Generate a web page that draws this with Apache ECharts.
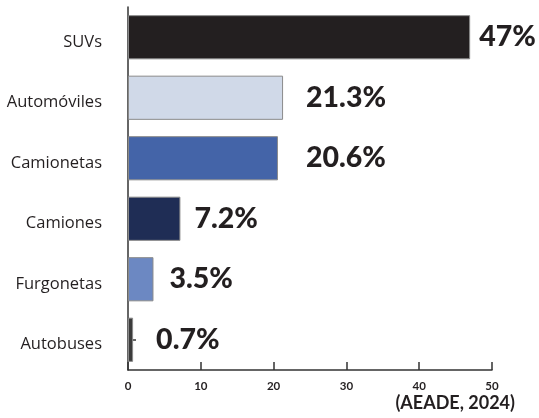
<!DOCTYPE html>
<html>
<head>
<meta charset="utf-8">
<script src="https://cdn.jsdelivr.net/npm/echarts@6/dist/echarts.min.js"></script>
<style>
  html, body { margin: 0; padding: 0; background: #fff; }
  #chart { width: 539px; height: 418px; }
</style>
</head>
<body>
<div id="chart"></div>
<script>
// datos (AEADE, 2024)
const categories = ['SUVs', 'Automóviles', 'Camionetas', 'Camiones', 'Furgonetas', 'Autobuses']
const shares = [47, 21.3, 20.6, 7.2, 3.5, 0.7]
const shareLabels = ['47%', '21.3%', '20.6%', '7.2%', '3.5%', '0.7%']
const xTicks = [0, 10, 20, 30, 40, 50]

// estilos por barra
const barColors = ['#231f20', '#d0d9e8', '#4464a8', '#1f2d55', '#6c88c2', '#3b3b3b']
const labelGap = [9, 23, 28, 14, 16, 23]

const chart = echarts.init(document.getElementById('chart'))

chart.setOption({
  backgroundColor: '#fff',
  animation: false,
  grid: { left: 128, right: 47, top: 7, bottom: 48 },
  xAxis: {
    type: 'value',
    min: xTicks[0], max: xTicks[xTicks.length - 1], interval: 10,
    axisLine: { show: true, lineStyle: { color: '#333', width: 1.5 } },
    axisTick: { show: true, inside: true, length: 8, lineStyle: { color: '#333', width: 1.5 } },
    axisLabel: { color: '#231f20', fontSize: 11.5, fontWeight: 'bold', fontFamily: 'Lato', margin: 10 },
    splitLine: { show: false },
  },
  yAxis: {
    type: 'category',
    inverse: true,
    data: categories,
    axisLine: { show: true, lineStyle: { color: '#333', width: 1.5 } },
    axisTick: { show: true, inside: true, alignWithLabel: true, length: 8, lineStyle: { color: '#333', width: 1.5 } },
    axisLabel: {
      margin: 26,
      formatter: (v) => `{c|${v}}`,
      rich: { c: { color: '#231f20', fontSize: 16.5, fontFamily: 'Open Sans', padding: [10, 0, 0, 0] } },
    },
  },
  series: [{
    type: 'bar',
    barCategoryGap: '27%',
    data: shares.map((v, i) => ({
      value: v,
      itemStyle: { color: barColors[i] },
      label: { distance: labelGap[i] },
    })),
    itemStyle: { borderColor: '#8a8a8a', borderWidth: 1 },
    label: {
      show: true,
      position: 'right',
      color: '#231f20',
      fontSize: 28.5,
      fontWeight: 900,
      fontFamily: 'Lato',
      formatter: ({ dataIndex }) => shareLabels[dataIndex],
    },
  }],
  graphic: [{
    type: 'text',
    right: 24, bottom: 6,
    style: { text: '(AEADE, 2024)', fill: '#231f20', font: 'bold 18px Lato' },
  }],
})
</script>
</body>
</html>
